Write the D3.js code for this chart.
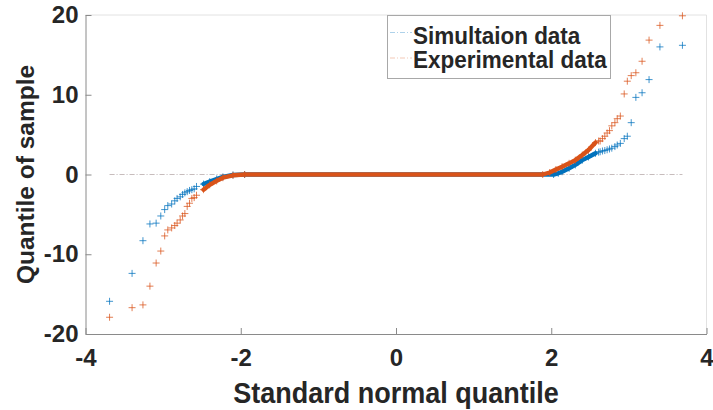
<!DOCTYPE html>
<html>
<head>
<meta charset="utf-8">
<script src="https://cdn.jsdelivr.net/npm/d3@7"></script>
<style>
    body { margin: 0; background: #fff; }
    text { font-family: "Liberation Sans", Arial, sans-serif; font-weight: bold; fill: #262626; }
    .axis path, .axis line { stroke: #8a8a8a; }
    .axis text { font-size: 24px; }
    .cross { stroke-width: 1; fill: none; }
</style>
</head>
<body>
<div id="chart"></div>
<script>
// standard normal quantiles of the sparse tail points (same for both samples)
var tailQ = [3.69, 3.40, 3.26, 3.17, 3.09, 3.03, 2.98, 2.94, 2.89, 2.85, 2.82, 2.78, 2.75, 2.72, 2.69, 2.66, 2.63];

var simLeft = [-15.9, -12.4, -8.3, -6.2, -6.1, -5.2, -4.4, -3.9, -3.7, -3.3, -3.0, -2.8, -2.5, -2.3, -2.15, -2.0, -1.9];
var simRight = [16.2, 16.0, 11.9, 10.25, 9.67, 6.5, 4.8, 4.5, 3.9, 3.7, 3.5, 3.3, 3.2, 3.1, 3.0, 2.95, 2.85];
var expLeft = [-17.9, -16.7, -16.35, -14.0, -11.1, -9.6, -7.7, -6.95, -6.7, -6.4, -6.1, -5.7, -5.2, -4.9, -4.0, -3.6, -3.0];
var expRight = [19.9, 18.7, 16.85, 14.2, 12.76, 12.4, 11.7, 10.1, 7.33, 7.0, 6.5, 6.1, 5.5, 5.2, 4.8, 4.5, 4.2];

// dense part of each sample, where the markers merge into a band
var simBand = [[-2.60, -1.8], [-2.57, -1.5], [-2.48, -1.2], [-2.40, -0.9], [-2.31, -0.56], [-2.23, -0.3],
    [-2.10, -0.06], [-1.95, 0], [2.03, 0], [2.09, 0.15], [2.14, 0.35], [2.23, 0.78], [2.31, 1.2],
    [2.40, 1.8], [2.48, 2.2], [2.57, 2.66], [2.61, 2.8]];
var expBand = [[-2.60, -2.9], [-2.57, -2.6], [-2.48, -1.9], [-2.40, -1.3], [-2.31, -0.8], [-2.23, -0.4],
    [-2.10, -0.1], [-1.95, 0], [1.89, 0], [1.98, 0.25], [2.06, 0.62], [2.14, 0.98], [2.23, 1.4],
    [2.31, 1.8], [2.40, 2.44], [2.48, 3.07], [2.57, 4.0], [2.61, 4.2]];

var refX = [-3.69, 3.69];
var refY = [0, 0];

var xTicks = [-4, -2, 0, 2, 4];
var yTicks = [-20, -10, 0, 10, 20];
var seriesNames = ["Simultaion data", "Experimental data"];
var colors = ["#0072BD", "#D95319"];

var W = 713, H = 410,
    margin = {top: 15, right: 6.5, bottom: 76, left: 85.5},
    width = W - margin.left - margin.right,
    height = H - margin.top - margin.bottom;

var x = d3.scaleLinear().domain([-4, 4]).range([0, width]);
var y = d3.scaleLinear().domain([-20, 20]).range([height, 0]);

var svg = d3.select("#chart").append("svg")
    .attr("width", W)
    .attr("height", H);

var g = svg.append("g")
    .attr("transform", "translate(" + margin.left + "," + margin.top + ")");

// box (top and right edges)
g.append("path")
    .attr("d", "M0,0H" + width + "V" + height)
    .attr("fill", "none")
    .attr("stroke", "#e2e2e2");

var fmt = function (d) { return String(d); };

g.append("g")
    .attr("class", "axis")
    .attr("transform", "translate(0," + height + ")")
    .call(d3.axisBottom(x).tickValues(xTicks).tickFormat(fmt).tickSizeInner(-6).tickSizeOuter(0).tickPadding(15));

g.append("g")
    .attr("class", "axis")
    .call(d3.axisLeft(y).tickValues(yTicks).tickFormat(fmt).tickSizeInner(-6).tickSizeOuter(0).tickPadding(7));

// reference lines (both at y = 0)
var refLine = d3.line()
    .x(function (d) { return x(d); })
    .y(function (d, i) { return y(refY[i]); });

colors.forEach(function (c) {
    g.append("path")
        .datum(refX)
        .attr("d", refLine)
        .attr("fill", "none")
        .attr("stroke", c)
        .attr("stroke-opacity", 0.3)
        .attr("stroke-width", 0.8)
        .attr("stroke-dasharray", "5,2,1,2");
});

var series = [
    {band: simBand, left: simLeft, right: simRight},
    {band: expBand, left: expLeft, right: expRight}
];

var bandLine = d3.line()
    .x(function (d) { return x(d[0]); })
    .y(function (d) { return y(d[1]); });

function plus(px, py) {
    return "M" + (px - 3.5) + "," + py + "H" + (px + 3.5) + "M" + px + "," + (py - 3.5) + "V" + (py + 3.5);
}

series.forEach(function (s, k) {
    var pts = s.band.slice();
    tailQ.forEach(function (q, i) {
        pts.push([-q, s.left[i]]);
        pts.push([q, s.right[i]]);
    });

    // the thick band only where markers are packed tight
    g.append("path")
        .datum(s.band.slice(2, s.band.length - 1))
        .attr("d", bandLine)
        .attr("fill", "none")
        .attr("stroke", colors[k])
        .attr("stroke-width", 4.4)
        .attr("stroke-linejoin", "round")
        .attr("stroke-linecap", "round");

    g.append("g").selectAll("path")
        .data(pts)
        .enter().append("path")
        .attr("class", "cross")
        .attr("stroke", colors[k])
        .attr("stroke-opacity", 0.75)
        .attr("d", function (d) { return plus(x(d[0]), y(d[1])); });
});

// axis titles
svg.append("text")
    .attr("transform", "translate(" + (margin.left + x(0)) + ",402.5) scale(1,1.07)")
    .attr("text-anchor", "middle")
    .style("font-size", "27px")
    .text("Standard normal quantile");

svg.append("text")
    .attr("transform", "translate(33.5," + (margin.top + y(0)) + ") rotate(-90)")
    .attr("text-anchor", "middle")
    .style("font-size", "24.5px")
    .text("Quantile of sample");

// legend
var legend = svg.append("g");
legend.append("rect")
    .attr("x", 387.5)
    .attr("y", 15.5)
    .attr("width", 223)
    .attr("height", 63)
    .attr("fill", "#fff")
    .attr("stroke", "#a8a8a8");

seriesNames.forEach(function (name, i) {
    var ly = [32.5, 58][i], by = [43.5, 67.5][i];
    legend.append("line")
        .attr("x1", 390).attr("x2", 412)
        .attr("y1", ly).attr("y2", ly)
        .attr("stroke", colors[i])
        .attr("stroke-opacity", 0.4)
        .attr("stroke-width", 0.8)
        .attr("stroke-dasharray", "5,2,1,2");
    legend.append("text")
        .attr("transform", "translate(413," + by + ") scale(1,1.05)")
        .style("font-size", "22.5px")
        .text(name);
});
</script>
</body>
</html>
